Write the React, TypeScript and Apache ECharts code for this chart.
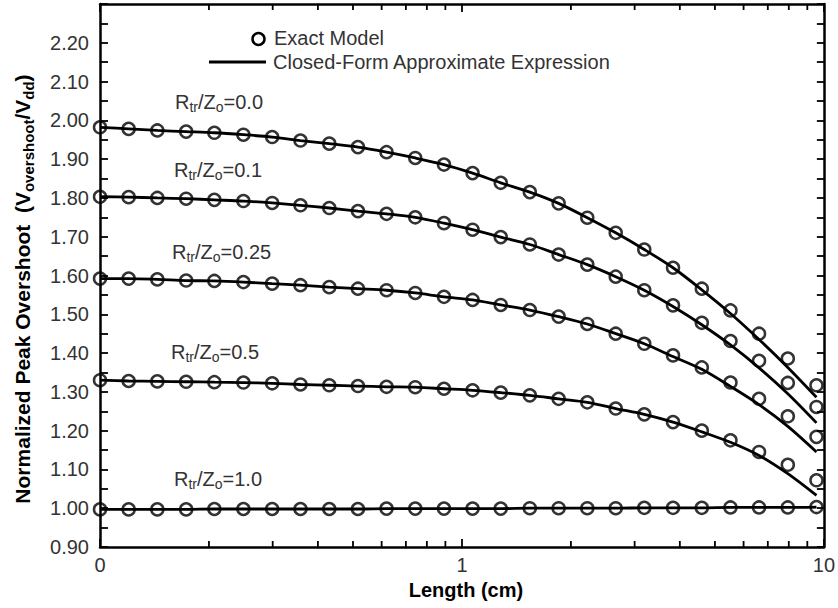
import React, { useEffect, useRef } from 'react';
import * as echarts from 'echarts';

// Length (cm) of the sample points (log-spaced)
const lengthCm = [0.1, 0.12, 0.144, 0.173, 0.207, 0.249, 0.299, 0.358, 0.43, 0.516, 0.619, 0.743, 0.892, 1.07, 1.28, 1.54, 1.85, 2.22, 2.66, 3.19, 3.83, 4.6, 5.52, 6.62, 7.95, 9.54];

// Exact model (circles)
const exact00 = [1.982, 1.978, 1.974, 1.971, 1.968, 1.963, 1.957, 1.948, 1.94, 1.931, 1.918, 1.903, 1.886, 1.864, 1.839, 1.815, 1.786, 1.749, 1.71, 1.667, 1.62, 1.566, 1.51, 1.45, 1.386, 1.317];
const exact01 = [1.803, 1.802, 1.8, 1.798, 1.795, 1.792, 1.787, 1.781, 1.774, 1.766, 1.759, 1.75, 1.735, 1.718, 1.699, 1.68, 1.654, 1.628, 1.597, 1.562, 1.523, 1.478, 1.431, 1.38, 1.323, 1.261];
const exact025 = [1.592, 1.592, 1.59, 1.587, 1.586, 1.583, 1.579, 1.575, 1.57, 1.566, 1.562, 1.555, 1.545, 1.537, 1.524, 1.511, 1.494, 1.475, 1.45, 1.424, 1.394, 1.363, 1.324, 1.282, 1.237, 1.184];
const exact05 = [1.33, 1.328, 1.327, 1.326, 1.325, 1.324, 1.322, 1.319, 1.317, 1.315, 1.313, 1.312, 1.308, 1.304, 1.298, 1.291, 1.282, 1.273, 1.257, 1.242, 1.222, 1.2, 1.175, 1.145, 1.112, 1.072];
const exact10 = [0.997, 0.997, 0.997, 0.997, 0.998, 0.998, 0.998, 0.998, 0.998, 0.998, 0.999, 0.999, 0.999, 0.999, 0.999, 1.0, 1.0, 1.0, 1.0, 1.001, 1.001, 1.001, 1.002, 1.002, 1.002, 1.003];

// Closed-form approximate expression (solid lines)
const approx00 = [1.982, 1.978, 1.974, 1.971, 1.968, 1.963, 1.957, 1.948, 1.94, 1.931, 1.918, 1.903, 1.886, 1.864, 1.839, 1.815, 1.786, 1.749, 1.71, 1.667, 1.62, 1.563, 1.502, 1.435, 1.363, 1.286];
const approx01 = [1.803, 1.802, 1.8, 1.798, 1.795, 1.792, 1.787, 1.781, 1.774, 1.766, 1.759, 1.75, 1.735, 1.718, 1.699, 1.68, 1.654, 1.628, 1.597, 1.562, 1.52, 1.473, 1.421, 1.362, 1.295, 1.22];
const approx025 = [1.592, 1.592, 1.59, 1.587, 1.586, 1.583, 1.579, 1.575, 1.57, 1.566, 1.562, 1.555, 1.545, 1.537, 1.524, 1.511, 1.494, 1.475, 1.45, 1.424, 1.391, 1.358, 1.314, 1.267, 1.211, 1.145];
const approx05 = [1.33, 1.328, 1.327, 1.326, 1.325, 1.324, 1.322, 1.319, 1.317, 1.315, 1.313, 1.312, 1.308, 1.304, 1.298, 1.291, 1.282, 1.273, 1.257, 1.242, 1.222, 1.197, 1.17, 1.136, 1.089, 1.033];
const approx10 = [0.997, 0.997, 0.997, 0.997, 0.998, 0.998, 0.998, 0.998, 0.998, 0.998, 0.999, 0.999, 0.999, 0.999, 0.999, 1.0, 1.0, 1.0, 1.0, 1.001, 1.001, 1.001, 1.002, 1.002, 1.002, 1.003];

const ratioLabels = ['0.0', '0.1', '0.25', '0.5', '1.0'];
const exactSets = [exact00, exact01, exact025, exact05, exact10];
const approxSets = [approx00, approx01, approx025, approx05, approx10];

const xTickValues = [0.1, 1, 10];
const xTickLabels = ['0', '1', '10'];
const xMinorTicks = [0.2, 0.3, 0.4, 0.5, 0.6, 0.7, 0.8, 0.9, 2, 3, 4, 5, 6, 7, 8, 9];

const FONT = '"Liberation Sans", Arial, Helvetica, sans-serif';
const TXT = '#333';

export default function App() {
  const ref = useRef<HTMLDivElement>(null);

  useEffect(() => {
    const chart = echarts.init(ref.current!, null, { renderer: 'svg' });

    const axisLineStyle = { color: '#000', width: 2.5 };
    const tickStyle = { color: '#000', width: 1.8 };

    const series: any[] = [];
    approxSets.forEach((arr) => {
      series.push({
        type: 'line',
        name: 'Closed-Form Approximate Expression',
        xAxisIndex: 0,
        yAxisIndex: 0,
        data: lengthCm.map((x, i) => [x, arr[i]]),
        showSymbol: false,
        symbol: 'none',
        smooth: 0.3,
        lineStyle: { color: '#000', width: 2.8 },
        z: 2,
        silent: true,
      });
    });
    exactSets.forEach((arr) => {
      series.push({
        type: 'scatter',
        name: 'Exact Model',
        xAxisIndex: 0,
        yAxisIndex: 0,
        data: lengthCm.map((x, i) => [x, arr[i]]),
        symbol: 'circle',
        symbolSize: 12,
        itemStyle: { color: 'rgba(0,0,0,0)', borderColor: '#000', borderWidth: 2.5 },
        z: 3,
        silent: true,
      });
    });
    // minor log ticks on bottom and top edges
    series.push({
      type: 'custom',
      xAxisIndex: 0,
      yAxisIndex: 0,
      silent: true,
      clip: false,
      z: 5,
      data: xMinorTicks.map((v) => [v, 0.9]),
      renderItem: (params: any, api: any) => {
        const x = api.value(0);
        const pb = api.coord([x, 0.9]);
        const pt = api.coord([x, 2.3]);
        return {
          type: 'group',
          children: [
            { type: 'line', shape: { x1: pb[0], y1: pb[1], x2: pb[0], y2: pb[1] - 6 }, style: { stroke: '#000', lineWidth: 1.8 } },
            { type: 'line', shape: { x1: pt[0], y1: pt[1], x2: pt[0], y2: pt[1] + 6 }, style: { stroke: '#000', lineWidth: 1.8 } },
          ],
        };
      },
    });

    const annY = [102, 170, 252, 352, 479];
    const annX = [175, 174, 172, 171, 174];
    const annotations = ratioLabels.map((r, k) => ({
      type: 'text',
      x: annX[k],
      y: annY[k],
      z: 10,
      style: {
        text: `{m|R}{s|tr}{m|/Z}{s|o}{m|=${r}}`,
        align: 'left',
        verticalAlign: 'middle',
        rich: {
          m: { fontSize: 20, fontFamily: FONT, fill: TXT, lineHeight: 24 },
          s: { fontSize: 14, fontFamily: FONT, fill: TXT, lineHeight: 14, verticalAlign: 'bottom' },
        },
      },
    }));

    const option: any = {
      animation: false,
      backgroundColor: '#fff',
      grid: { left: 100, top: 4, width: 730, height: 543, containLabel: false },
      xAxis: [
        {
          type: 'log',
          logBase: 10,
          min: 0.1,
          max: 10,
          position: 'bottom',
          axisLine: { show: true, onZero: false, lineStyle: axisLineStyle },
          axisTick: { show: true, inside: true, length: 8, lineStyle: tickStyle },
          splitLine: { show: false },
          axisLabel: {
            fontSize: 20,
            fontFamily: FONT,
            color: TXT,
            margin: 8,
            formatter: (v: number) => {
              const idx = xTickValues.findIndex((t) => Math.abs(t - v) < 1e-9);
              return idx >= 0 ? xTickLabels[idx] : '';
            },
          },
          name: 'Length (cm)',
          nameLocation: 'middle',
          nameGap: 30,
          nameTextStyle: { fontSize: 20, fontWeight: 'bold', color: '#000', fontFamily: FONT, padding: [0, 0, 0, 8] },
        },
        {
          type: 'log',
          logBase: 10,
          min: 0.1,
          max: 10,
          position: 'top',
          axisLine: { show: true, onZero: false, lineStyle: axisLineStyle },
          axisTick: { show: true, inside: true, length: 8, lineStyle: tickStyle },
          splitLine: { show: false },
          axisLabel: { show: false },
        },
      ],
      yAxis: [
        {
          type: 'value',
          min: 0.9,
          max: 2.3,
          interval: 0.1,
          position: 'left',
          axisLine: { show: true, onZero: false, lineStyle: axisLineStyle },
          axisTick: { show: true, inside: true, length: 8, lineStyle: tickStyle },
          minorTick: { show: true, splitNumber: 2, length: 8, lineStyle: tickStyle },
          splitLine: { show: false },
          axisLabel: {
            fontSize: 20,
            fontFamily: FONT,
            color: TXT,
            margin: 11,
            formatter: (v: number) => (v > 2.25 ? '' : v.toFixed(2)),
          },
        },
        {
          type: 'value',
          min: 0.9,
          max: 2.3,
          interval: 0.1,
          position: 'right',
          axisLine: { show: true, onZero: false, lineStyle: axisLineStyle },
          axisTick: { show: true, inside: true, length: 7, lineStyle: tickStyle },
          minorTick: { show: true, splitNumber: 2, length: 7, lineStyle: tickStyle },
          splitLine: { show: false },
          axisLabel: { show: false },
        },
      ],
      series,
      graphic: [
        // legend
        { type: 'circle', shape: { cx: 258.5, cy: 39, r: 6 }, style: { fill: 'none', stroke: '#000', lineWidth: 2.5 }, z: 10 },
        { type: 'text', x: 274, y: 38, z: 10, style: { text: 'Exact Model', fontSize: 20, fontFamily: FONT, fill: TXT, align: 'left', verticalAlign: 'middle' } },
        { type: 'line', shape: { x1: 209, y1: 62, x2: 266, y2: 62 }, style: { stroke: '#000', lineWidth: 2.8 }, z: 10 },
        { type: 'text', x: 273, y: 62, z: 10, style: { text: 'Closed-Form Approximate Expression', fontSize: 20, fontFamily: FONT, fill: TXT, align: 'left', verticalAlign: 'middle' } },
        // y axis name
        {
          type: 'text',
          x: 22,
          y: 289,
          rotation: Math.PI / 2,
          z: 10,
          style: {
            text: '{b|Normalized Peak Overshoot  (V}{s|overshoot}{b|/V}{s|dd}{b|)}',
            align: 'center',
            verticalAlign: 'middle',
            rich: {
              b: { fontSize: 21, fontWeight: 'bold', fontFamily: FONT, fill: '#000', lineHeight: 28 },
              s: { fontSize: 15, fontWeight: 'bold', fontFamily: FONT, fill: '#000', lineHeight: 16, verticalAlign: 'bottom' },
            },
          },
        },
        ...annotations,
      ],
    };

    chart.setOption(option);
    return () => chart.dispose();
  }, []);

  return (
    <div
      ref={ref}
      style={{ position: 'fixed', left: 0, top: 0, width: 838, height: 608, background: '#fff' }}
    />
  );
}
